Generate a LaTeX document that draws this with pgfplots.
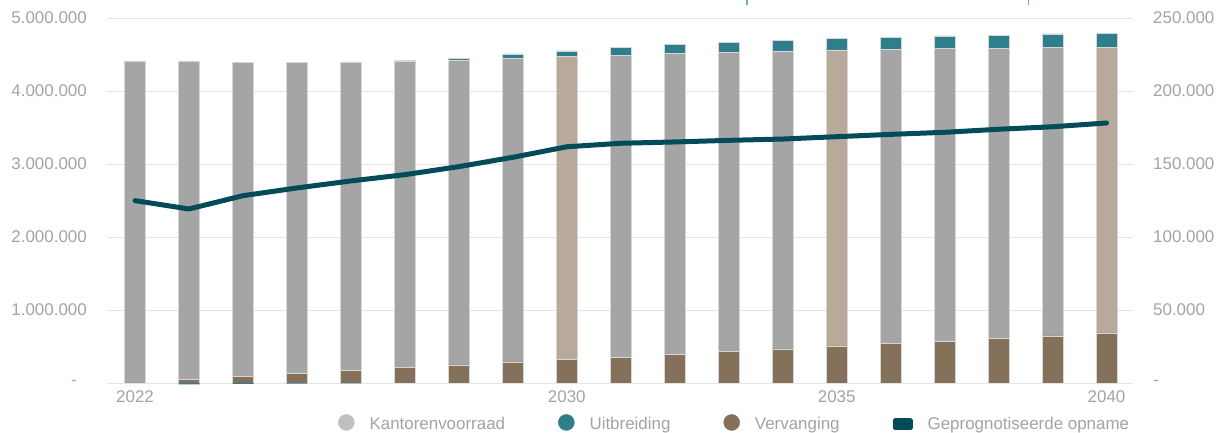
\documentclass[border=0pt]{standalone}
\usepackage{fontspec}
\setmainfont{Liberation Sans}
\usepackage{pgfplots}
\usepackage{pgfplotstable}
\pgfplotsset{compat=1.18}
\definecolor{cgray}{HTML}{A5A5A5}
\definecolor{ctan}{HTML}{B9A99A}
\definecolor{cteal}{HTML}{2F7E8B}
\definecolor{cbrown}{HTML}{85705A}
\definecolor{cline}{HTML}{024C5A}
\definecolor{clegk}{HTML}{BFBFBF}
\definecolor{ctext}{HTML}{A3A3A3}
\definecolor{cgrid}{HTML}{E4E4E4}
\definecolor{cedge}{HTML}{D6D6D6}
\definecolor{cmark}{HTML}{6FA9B5}

\pgfplotstableread{
year verv    gray    tan     uitb   neg
2022 0       4411000 0       0      0
2023 45000   4366000 0       0      -18000
2024 86000   4304000 0       0      -12000
2025 127000  4263000 0       0      -8000
2026 168000  4232000 0       0      -5000
2027 210000  4200000 0       8000   0
2028 247000  4178000 0       27000  0
2029 288000  4159000 0       60000  0
2030 324000  0       4146000 80000  0
2031 356000  4134000 0       103000 0
2032 397000  4123000 0       120000 0
2033 434000  4100000 0       133000 0
2034 466000  4082000 0       142000 0
2035 507000  0       4055000 154000 0
2036 543000  4027000 0       165000 0
2037 575000  4005000 0       175000 0
2038 616000  3973000 0       178000 0
2039 644000  3949000 0       188000 0
2040 685000  0       3915000 190000 0
}\bars

\pgfplotstableread{
year op
2022 124900
2023 119200
2024 128300
2025 133600
2026 138400
2027 142700
2028 148200
2029 154600
2030 161800
2031 164200
2032 165100
2033 166200
2034 167100
2035 168700
2036 170300
2037 171700
2038 173800
2039 175500
2040 178100
}\opname

\pgfplotsset{
  common/.style={
    at={(107bp,50bp)}, anchor=south west, scale only axis,
    width=1026bp, height=365bp,
    xmin=2021.48, xmax=2040.49,
    axis line style={draw=none}, major tick length=0pt,
    tick label style={font=\fontsize{17}{20}\selectfont, text=ctext},
  },
}

\begin{document}
\begin{tikzpicture}
\useasboundingbox (0,0) rectangle (1218bp,433bp);

% bars, left axis, grid
\begin{axis}[common,
  ymin=0, ymax=5000000,
  ybar stacked, bar width=21bp,
  ytick={0,1000000,2000000,3000000,4000000,5000000},
  yticklabels={-\hspace*{10bp},1.000.000,2.000.000,3.000.000,4.000.000,5.000.000},
  xtick={2022,2030,2035,2040},
  xticklabels={2022,2030,2035,2040},
  yticklabel style={inner sep=0pt, xshift=-20bp},
  xticklabel style={inner sep=0pt, yshift=-7bp},
  ymajorgrids, grid style={cgrid, line width=1bp},
  scaled y ticks=false,
]
\addplot[fill=cbrown, draw=cedge, line width=0.6bp] table[x=year,y=verv]{\bars};
\addplot[fill=cgray, draw=cedge, line width=0.6bp] table[x=year,y=gray]{\bars};
\addplot[fill=ctan, draw=cedge, line width=0.6bp] table[x=year,y=tan]{\bars};
\addplot[fill=cteal, draw=cedge, line width=0.6bp] table[x=year,y=uitb]{\bars};
\end{axis}

% negative Uitbreiding below zero
\begin{axis}[common,
  ymin=0, ymax=5000000, hide axis, clip=false,
  ybar, bar width=21bp,
]
\addplot[fill=cteal, draw=none] table[x=year,y=neg]{\bars};
\end{axis}

% line, right axis, legend
\begin{axis}[common,
  ymin=0, ymax=250000,
  hide x axis, axis y line*=right,
  ytick={0,50000,100000,150000,200000,250000},
  yticklabels={-,50.000,100.000,150.000,200.000,250.000},
  yticklabel style={inner sep=0pt, xshift=20bp},
  scaled y ticks=false,
  legend columns=4,
  legend cell align=left,
  legend style={at={(0.2251,-0.109)}, anchor=west, draw=none, fill=none,
    inner sep=0pt, font=\fontsize{17}{20}\selectfont, text=ctext,
    nodes={inner sep=0pt},
    /tikz/every odd column/.append style={column sep=15bp},
    /tikz/every even column/.append style={column sep=53bp}},
]
\addlegendimage{legend image code/.code={\fill[clegk] (8bp,2bp) circle (8bp);}}
\addlegendentry{Kantorenvoorraad}
\addlegendimage{legend image code/.code={\fill[cteal] (8bp,2bp) circle (8bp);}}
\addlegendentry{Uitbreiding}
\addlegendimage{legend image code/.code={\fill[cbrown] (8bp,2bp) circle (8bp);}}
\addlegendentry{Vervanging}
\addplot[cline, line width=5bp, line cap=round, line join=round,
  legend image code/.code={\fill[cline] (0.5bp,-3.5bp) rectangle (15.5bp,3.5bp);}]
  table[x=year,y=op]{\opname};
\addlegendentry{Geprognotiseerde opname}
\end{axis}

\draw[cmark, line width=1.5bp] (747bp,433bp) -- (747bp,427.5bp);
\draw[cmark, line width=1.5bp] (1028.5bp,433bp) -- (1028.5bp,428bp);
\end{tikzpicture}
\end{document}
